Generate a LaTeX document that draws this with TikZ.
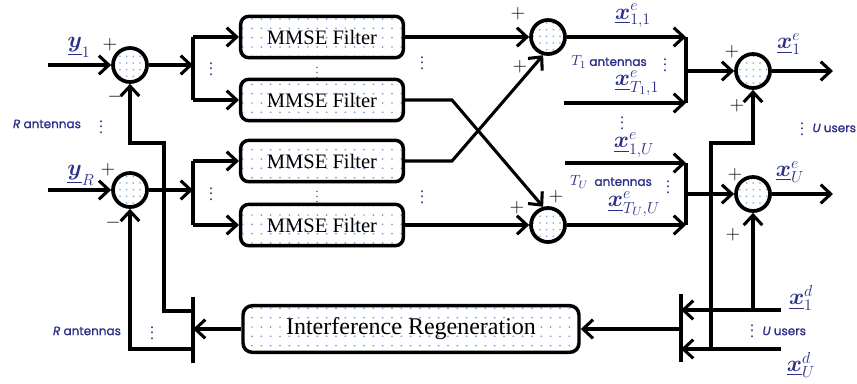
\documentclass[tikz,border=0pt]{standalone}
\usepackage{amsmath,bm}
\usepackage{fontspec}
\setmainfont{Liberation Serif}
\newfontfamily\lblfont[FakeBold=1.3]{Poppins}
\usetikzlibrary{arrows.meta,patterns.meta,shadows}
\definecolor{navy}{RGB}{43,47,135}
\definecolor{dotc}{RGB}{120,160,228}
\begin{document}
\begin{tikzpicture}[x=0.75pt,y=-0.75pt,
  line width=2.3pt,
  arr/.style={-{Straight Barb[length=7.5pt,width=14pt]}},
  dotfill/.style={preaction={fill=white}, pattern={Dots[distance=7pt,radius=0.7pt]}, pattern color=dotc},
  cdotfill/.style={preaction={fill=white}, pattern={Dots[distance=5pt,radius=0.65pt]}, pattern color=dotc},
  shad/.style={drop shadow={shadow xshift=1pt,shadow yshift=-1.2pt,opacity=0.3}},
  filt/.style={draw, rounded corners=6pt, line width=2.6pt, minimum width=122pt, minimum height=31pt, inner sep=0pt, shad, dotfill, font=\fontsize{15.4}{18}\selectfont},
  irbox/.style={draw, rounded corners=7pt, line width=2.6pt, minimum width=252pt, minimum height=35pt, inner sep=0pt, shad, dotfill, font=\fontsize{18}{21}\selectfont},
  sum/.style={circle, draw, line width=2.8pt, minimum size=25.5pt, inner sep=0pt, shad, cdotfill},
  sgn/.style={font=\fontsize{14}{14}\selectfont, inner sep=0pt},
  mlab/.style={text=navy, font=\fontsize{17.5}{17.5}\selectfont, inner sep=0pt},
  lbl/.style={text=navy, font=\lblfont\fontsize{9}{10}\selectfont, inner sep=0pt},
  vd/.style={text=navy, font=\fontsize{12}{12}\selectfont, inner sep=0pt}
]
\useasboundingbox (0,0) rectangle (857,383);

% ---------- left input stage ----------
\coordinate (in1) at (48,65);
\coordinate (inR) at (48,190);
\node[sum] (s1) at (130,65) {};
\node[sum] (sR) at (130,190) {};
\node[mlab] (ly1) at (79,47) {$\underline{\bm{y}}_1$};
\node[mlab] (lyR) at (81,175) {$\underline{\bm{y}}_R$};
\node[sgn] (p1) at (110,45) {$+$};
\node[sgn] (n1) at (115,97) {$-$};
\node[sgn] (pR) at (108,170) {$+$};
\node[sgn] (nR) at (113,223) {$-$};
\node[lbl] (ra1) at (47,124) {\textit{R} antennas};
\node[vd] (vra1) at (101,123) {$\vdots$};

\coordinate (b1t) at (193,37); \coordinate (b1m) at (193,65); \coordinate (b1b) at (193,100);
\coordinate (b2t) at (193,161); \coordinate (b2m) at (193,190); \coordinate (b2b) at (193,225);
\node[vd] (vb1) at (211,65) {$\vdots$};
\node[vd] (vb2) at (211,190) {$\vdots$};

\node[filt] (m1) at (322,37) {MMSE Filter};
\node[filt] (m2) at (322,100) {MMSE Filter};
\node[filt] (m3) at (322,161) {MMSE Filter};
\node[filt] (m4) at (322,225) {MMSE Filter};
\node[vd, font=\fontsize{9}{9}\selectfont] (vm1) at (317,69) {$\vdots$};
\node[vd, font=\fontsize{9}{9}\selectfont] (vm2) at (317,193) {$\vdots$};
\node[vd] (vo1) at (422,59) {$\vdots$};
\node[vd] (vo2) at (422,193) {$\vdots$};

\draw[arr] (in1) -- (s1);
\draw[arr] (inR) -- (sR);
\draw[arr] (s1) -- (b1m);
\draw[arr] (sR) -- (b2m);
\draw (b1t) -- (b1b);
\draw (b2t) -- (b2b);
\draw[arr] (b1t) -- (m1);
\draw[arr] (b1b) -- (m2);
\draw[arr] (b2t) -- (m3);
\draw[arr] (b2b) -- (m4);

% ---------- middle summers ----------
\node[sum] (s2a) at (548,37) {};
\node[sum] (s2b) at (548,225) {};
\coordinate (k2) at (452,100);
\coordinate (k3) at (452,161);
\draw[arr] (m1) -- (s2a);
\draw[arr] (m2.east) -- (k2) -- (s2b.105);
\draw[arr] (m3.east) -- (k3) -- (s2a.-105);
\draw[arr] (m4) -- (s2b);
\node[sgn] (pa1) at (518,14) {$+$};
\node[sgn] (pa2) at (520,67) {$+$};
\node[sgn] (pb1) at (517,208) {$+$};
\node[sgn] (pb2) at (556,197) {$+$};

% ---------- right stage ----------
\coordinate (r1t) at (686,37); \coordinate (r1m) at (686,71); \coordinate (r1b) at (686,103);
\coordinate (l2) at (564,103);
\coordinate (r2t) at (686,163); \coordinate (r2m) at (686,194); \coordinate (r2b) at (686,225);
\coordinate (l3) at (565,163);
\node[sum] (s3a) at (753,71) {};
\node[sum] (s3b) at (753,194) {};
\coordinate (e1) at (833,71);
\coordinate (eU) at (833,194);

\draw[arr] (s2a) -- (r1t);
\draw[arr] (l2) -- (r1b);
\draw (r1t) -- (r1b);
\draw[arr] (r1m) -- (s3a);
\draw[arr] (s3a) -- (e1);
\draw[arr] (l3) -- (r2t);
\draw[arr] (s2b) -- (r2b);
\draw (r2t) -- (r2b);
\draw[arr] (r2m) -- (s3b);
\draw[arr] (s3b) -- (eU);

\node[mlab] (x11) at (633,16) {$\underline{\bm{x}}^{e}_{1,1}$};
\node[lbl] (t1a) at (609,62) {{\fontsize{11}{11}\selectfont$T_1$} antennas};
\node[vd] (vt1) at (665,61) {$\vdots$};
\node[mlab] (xT1) at (637,83) {$\underline{\bm{x}}^{e}_{T_1,1}$};
\node[vd] (vmid) at (622,119) {$\vdots$};
\node[mlab] (x1U) at (634,145) {$\underline{\bm{x}}^{e}_{1,U}$};
\node[lbl] (tUa) at (611,182) {{\fontsize{11}{11}\selectfont$T_U$}\ \ antennas};
\node[vd] (vtU) at (668,183) {$\vdots$};
\node[mlab] (xTU) at (634,204) {$\underline{\bm{x}}^{e}_{T_U,U}$};

\node[sgn] (pc1) at (732,52) {$+$};
\node[sgn] (pc2) at (737,106) {$+$};
\node[sgn] (pd1) at (735,175) {$+$};
\node[sgn] (pd2) at (733,235) {$+$};
\node[mlab] (xe1) at (789,44) {$\underline{\bm{x}}^{e}_{1}$};
\node[mlab] (xeU) at (790,172) {$\underline{\bm{x}}^{e}_{U}$};
\node[vd] (vu1) at (802,125) {$\vdots$};
\node[lbl, anchor=west] (uu1) at (811,128) {\textit{U} users};

% ---------- feedback ----------
\coordinate (d1) at (781,310);
\coordinate (dU) at (781,349);
\coordinate (b3t) at (681,294); \coordinate (b3a) at (681,310); \coordinate (b3m) at (681,329);
\coordinate (b3c) at (681,349); \coordinate (b3b) at (681,362);
\coordinate (j1) at (753,310);
\coordinate (j2) at (711,349);
\coordinate (j3) at (711,143);
\coordinate (j4) at (753,143);
\draw[arr] (d1) -- (b3a);
\draw[arr] (dU) -- (b3c);
\draw (b3t) -- (b3b);
\draw[arr] (j1) -- (s3b);
\draw[arr] (j2) -- (j3) -- (j4) -- (s3a);
\node[mlab] (xd1) at (801,298) {$\underline{\bm{x}}^{d}_{1}$};
\node[mlab] (xdU) at (801,365) {$\underline{\bm{x}}^{d}_{U}$};
\node[vd] (vu2) at (752,327) {$\vdots$};
\node[lbl, anchor=west] (uu2) at (761,331) {\textit{U} users};

\node[irbox] (ir) at (411,329) {Interference Regeneration};
\coordinate (b4t) at (193,297); \coordinate (b4a) at (193,311); \coordinate (b4m) at (193,329);
\coordinate (b4c) at (193,349); \coordinate (b4b) at (193,363);
\coordinate (f1) at (164,311); \coordinate (f2) at (164,143); \coordinate (f3) at (130,143);
\coordinate (f4) at (130,349);
\draw[arr] (b3m) -- (ir);
\draw[arr] (ir) -- (b4m);
\draw (b4t) -- (b4b);
\draw[arr] (b4a) -- (f1) -- (f2) -- (f3) -- (s1);
\draw[arr] (b4c) -- (f4) -- (sR);
\node[lbl] (ra2) at (87,331) {\textit{R} antennas};
\node[vd] (vra2) at (152,329) {$\vdots$};
\end{tikzpicture}
\end{document}
